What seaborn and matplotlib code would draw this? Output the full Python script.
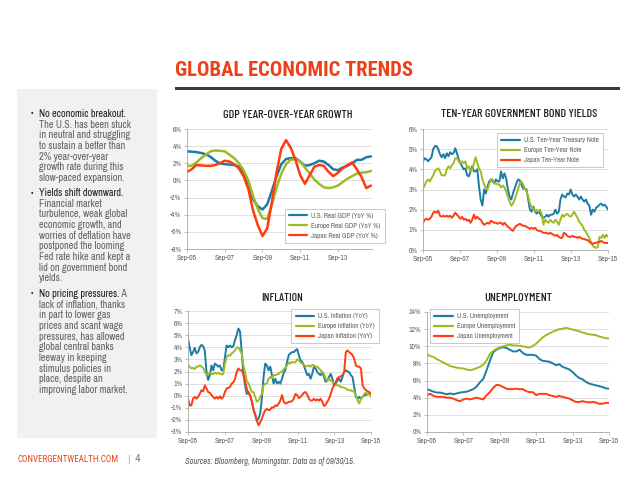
import numpy as np
import pandas as pd
import matplotlib
matplotlib.use('Agg')
import matplotlib.pyplot as plt
import seaborn as sns
from matplotlib import font_manager as fm
from matplotlib.patches import Rectangle

# ---------------- data ----------------
tick_labels = ['Sep-05', 'Sep-07', 'Sep-09', 'Sep-11', 'Sep-13', 'Sep-15']
tick_dates = ['2005-09-30', '2007-09-30', '2009-09-30', '2011-09-30', '2013-09-30', '2015-09-30']

gdp_us = [3.4, 3.35, 3.3, 3.2, 3.05, 2.75, 2.3, 2.0, 1.9, 1.85, 1.8, 1.6, 0.9, -0.6, -2.2, -3.0,
          -3.4, -2.8, -1.2, 0.5, 1.9, 2.5, 2.6, 2.6, 2.2, 1.7, 1.8, 2.0, 2.3, 2.2, 1.8, 1.3,
          1.2, 1.5, 1.7, 2.0, 2.4, 2.4, 2.7, 2.8]
gdp_eu = [1.7, 1.7, 2.1, 2.6, 3.0, 3.4, 3.5, 3.45, 3.4, 3.0, 2.6, 2.0, 1.2, 0.0, -1.8, -3.3,
          -4.4, -4.5, -2.8, -0.8, 0.8, 1.9, 2.4, 2.5, 2.2, 1.5, 0.8, 0.1, -0.4, -0.8, -0.9, -0.8,
          -0.6, -0.2, 0.2, 0.5, 0.8, 0.9, 0.95, 1.1]
gdp_jp = [1.0, 1.3, 1.8, 1.75, 1.7, 1.7, 1.8, 2.0, 2.3, 2.2, 1.9, 1.4, 0.5, -1.0, -3.5, -5.2,
          -6.5, -5.6, -2.5, 1.0, 3.7, 4.7, 3.8, 2.4, 0.6, -0.4, 0.6, 1.6, 1.8, 1.7, 1.0, 0.5,
          0.9, 1.4, 1.8, 2.1, 1.3, 0.4, -0.9, -0.6]

bond_us = [4.4, 4.55, 4.5, 4.4, 4.5, 4.6, 5.0, 5.15, 5.15, 5.0,
           4.75, 4.6, 4.75, 4.55, 4.8, 4.65, 4.85, 4.75, 4.8, 5.05,
           4.8, 4.5, 4.3, 4.15, 4.0, 4.05, 3.7, 3.65, 3.9, 4.15,
           3.9, 3.9, 4.0, 3.15, 2.5, 2.2, 3.0, 2.8, 3.15, 3.4,
           3.5, 3.4, 3.3, 3.5, 3.4, 3.4, 3.9, 3.55, 3.8, 3.55,
           3.0, 2.65, 2.5, 2.8, 3.05, 3.3, 3.5, 3.45, 3.25, 3.05,
           3.05, 3.0, 2.5, 2.0, 1.9, 2.15, 1.9, 1.8, 1.9, 1.8,
           1.65, 1.6, 1.65, 1.75, 1.65, 1.75, 1.75, 1.8, 2.0, 1.8,
           1.9, 2.5, 2.75, 2.65, 2.6, 2.8, 2.75, 3.0, 2.75, 2.65,
           2.75, 2.65, 2.5, 2.65, 2.5, 2.4, 2.5, 2.3, 2.2, 1.75,
           2.0, 1.9, 2.1, 2.15, 2.25, 2.3, 2.2, 2.25, 2.15, 2.0]
bond_eu = [3.05, 3.2, 3.4, 3.5, 3.4, 3.55, 3.7, 3.9, 4.0, 4.05,
           3.9, 3.7, 3.7, 3.7, 4.0, 4.15, 4.05, 4.2, 4.3, 4.55,
           4.55, 4.4, 4.3, 4.4, 4.3, 4.4, 4.05, 4.15, 3.9, 4.0,
           4.3, 4.6, 4.3, 4.05, 3.9, 3.5, 3.25, 3.05, 3.0, 3.25,
           3.5, 3.5, 3.3, 3.3, 3.25, 3.25, 3.1, 3.2, 3.1, 2.9,
           2.65, 2.4, 2.2, 2.3, 2.5, 2.75, 3.0, 3.3, 3.4, 3.25,
           3.05, 2.9, 2.65, 2.3, 2.15, 2.05, 1.9, 2.0, 1.9, 2.0,
           1.75, 1.25, 1.5, 1.4, 1.35, 1.5, 1.4, 1.35, 1.5, 1.4,
           1.25, 1.5, 1.75, 1.65, 1.75, 1.8, 1.7, 1.65, 1.75, 1.9,
           1.75, 1.6, 1.4, 1.3, 1.2, 1.0, 0.9, 0.75, 0.6, 0.4,
           0.2, 0.15, 0.1, 0.15, 0.65, 0.6, 0.75, 0.6, 0.75, 0.65]
bond_jp = [1.35, 1.5, 1.55, 1.5, 1.55, 1.65, 1.85, 1.9, 1.85, 1.95,
           1.7, 1.65, 1.7, 1.65, 1.7, 1.65, 1.7, 1.6, 1.7, 1.85,
           1.75, 1.65, 1.55, 1.65, 1.5, 1.55, 1.45, 1.5, 1.35, 1.5,
           1.75, 1.55, 1.65, 1.55, 1.5, 1.35, 1.25, 1.3, 1.35, 1.3,
           1.45, 1.4, 1.35, 1.35, 1.3, 1.35, 1.35, 1.25, 1.35, 1.25,
           1.15, 1.1, 1.0, 0.95, 1.1, 1.2, 1.25, 1.3, 1.25, 1.2,
           1.2, 1.15, 1.1, 1.05, 1.1, 1.05, 1.1, 1.0, 0.95, 0.95,
           0.9, 0.85, 0.85, 0.85, 0.8, 0.85, 0.8, 0.75, 0.7, 0.75,
           0.65, 0.6, 0.6, 0.85, 0.8, 0.7, 0.65, 0.65, 0.7, 0.65,
           0.65, 0.6, 0.65, 0.6, 0.55, 0.55, 0.5, 0.5, 0.4, 0.35,
           0.3, 0.35, 0.35, 0.4, 0.4, 0.45, 0.4, 0.35, 0.35, 0.35]

infl_us = [4.7, 4.0, 3.35, 3.6, 3.95, 3.5, 3.6, 4.0, 4.2, 4.1,
           3.75, 2.0, 1.3, 1.7, 2.5, 2.1, 2.65, 2.55, 2.4, 2.5,
           2.1, 2.1, 3.2, 4.15, 4.0, 4.15, 4.0, 4.1, 4.6, 5.0,
           5.55, 5.3, 3.6, 1.8, 0.85, 0.15, 0.3, 0.0, -0.5, -1.1,
           -1.6, -2.05, -1.9, -1.5, -0.25, 1.55, 2.65, 2.5, 2.1, 2.4,
           1.7, 1.0, 1.4, 1.0, 1.15, 1.0, 1.4, 1.9, 2.1, 2.8,
           3.35, 3.5, 3.6, 3.6, 3.75, 3.85, 3.35, 2.95, 2.8, 2.5,
           2.1, 1.7, 1.8, 1.4, 1.8, 2.4, 2.25, 1.95, 1.8, 1.7,
           1.95, 1.55, 1.15, 1.25, 1.55, 1.8, 1.4, 0.85, 1.0, 1.25,
           1.4, 1.15, 1.55, 1.95, 2.1, 2.0, 1.95, 1.7, 1.55, 0.7,
           -0.1, -0.25, -0.1, -0.25, -0.1, 0.05, 0.05, 0.15, 0.15, 0.15]
infl_eu = [2.5, 2.4, 2.25, 2.3, 2.2, 2.4, 2.4, 2.5, 2.4, 2.3,
           2.0, 1.7, 1.8, 1.9, 1.8, 1.8, 1.9, 1.8, 1.9, 1.8,
           1.75, 1.8, 2.65, 3.2, 3.35, 3.3, 3.5, 3.6, 3.75, 3.95,
           4.0, 3.75, 3.5, 2.5, 1.95, 1.25, 1.0, 0.7, 0.3, 0.3,
           -0.1, -0.5, -0.4, -0.1, 0.15, 0.85, 1.0, 1.0, 1.4, 1.55,
           1.45, 1.7, 1.7, 1.75, 1.8, 1.95, 2.0, 2.2, 2.3, 2.5,
           2.75, 2.65, 2.8, 2.75, 2.75, 3.0, 2.95, 2.75, 2.65, 2.55,
           2.45, 2.45, 2.5, 2.4, 2.55, 2.5, 2.4, 2.4, 2.25, 2.1,
           1.95, 1.8, 1.4, 1.25, 1.4, 1.25, 1.15, 1.0, 0.9, 0.85,
           0.85, 0.7, 0.7, 0.65, 0.6, 0.5, 0.45, 0.45, 0.35, 0.35,
           0.05, -0.4, -0.65, -0.25, -0.1, 0.15, 0.25, 0.1, 0.15, -0.1]
infl_jp = [-0.25, -0.8, -0.8, -0.25, -0.1, -0.25, -0.1, 0.15, 0.45, 0.35,
           0.85, 0.6, 0.3, 0.25, 0.05, -0.1, -0.25, -0.1, -0.25, -0.05,
           -0.25, -0.1, 0.3, 0.6, 0.65, 0.7, 1.0, 1.1, 1.4, 1.95,
           2.25, 2.1, 2.1, 1.8, 1.15, 0.6, 0.15, 0.05, -0.4, -1.2,
           -1.5, -2.05, -2.45, -2.2, -1.9, -1.5, -1.2, -1.1, -1.2, -1.15,
           -0.95, -1.0, -0.8, -0.85, -0.65, -0.4, 0.05, -0.5, -0.65, -0.6,
           -0.5, -0.5, -0.45, -0.25, 0.15, 0.05, -0.2, -0.1, 0.05, 0.25,
           0.3, 0.1, -0.25, -0.4, -0.4, -0.25, -0.4, -0.3, -0.4, -0.25,
           -0.5, -0.85, -0.75, -0.5, -0.25, 0.15, 0.6, 0.85, 1.15, 1.45,
           1.55, 1.6, 1.7, 1.95, 3.6, 3.75, 3.6, 3.5, 3.35, 3.05,
           2.5, 2.4, 2.4, 2.25, 0.85, 0.6, 0.45, 0.35, 0.3, 0.15]

unemp_us = [5.0, 4.85, 4.7, 4.6, 4.6, 4.5, 4.4, 4.5, 4.4, 4.5,
            4.6, 4.65, 4.7, 4.85, 5.0, 5.3, 5.8, 6.2, 7.2, 8.3,
            9.3, 9.6, 9.8, 9.9, 9.8, 9.6, 9.4, 9.4, 9.6, 9.2,
            9.0, 9.0, 9.0, 8.9, 8.5, 8.3, 8.25, 8.2, 8.0, 7.8,
            7.9, 7.6, 7.45, 7.3, 7.0, 6.6, 6.3, 6.15, 5.85, 5.65,
            5.55, 5.45, 5.35, 5.25, 5.1, 5.05]
unemp_eu = [9.05, 8.85, 8.75, 8.5, 8.3, 8.1, 7.9, 7.7, 7.6, 7.5,
            7.45, 7.4, 7.3, 7.2, 7.3, 7.45, 7.6, 7.85, 8.35, 9.1,
            9.45, 9.7, 9.9, 10.0, 10.1, 10.2, 10.1, 10.1, 10.05, 10.0,
            9.9, 9.85, 10.05, 10.3, 10.7, 11.05, 11.3, 11.5, 11.7, 11.85,
            12.0, 12.05, 12.15, 12.05, 11.95, 11.85, 11.75, 11.6, 11.5, 11.4,
            11.35, 11.3, 11.15, 11.05, 10.95, 10.9]
unemp_jp = [4.3, 4.45, 4.2, 4.1, 4.1, 4.1, 4.0, 4.0, 3.9, 3.7,
            3.6, 3.8, 3.9, 3.8, 3.9, 4.0, 3.9, 3.8, 4.3, 4.65,
            5.15, 5.5, 5.45, 5.25, 5.05, 5.0, 5.0, 5.05, 5.0, 5.0,
            4.75, 4.65, 4.65, 4.3, 4.45, 4.45, 4.45, 4.3, 4.2, 4.1,
            4.2, 4.1, 4.0, 3.9, 3.7, 3.5, 3.5, 3.6, 3.5, 3.45,
            3.5, 3.45, 3.3, 3.3, 3.4, 3.4]

gdp_labels = ['U.S. Real GDP (YoY %)', 'Europe Real GDP (YoY %)', 'Japan Real GDP (YoY %)']
bond_labels = ['U.S. Ten-Year Treasury Note', 'Europe Ten-Year Note', 'Japan Ten-Year Note']
infl_labels = ['U.S. Inflation (YoY)', 'Europe Inflation (YoY)', 'Japan Inflation (YoY)']
unemp_labels = ['U.S. Unemployment', 'Europe Unemployment', 'Japan Unemployment']

bullets = [
    ("No economic breakout.", "", ["The U.S. has been stuck", "in neutral and struggling",
      "to sustain a better than", "2% year-over-year", "growth rate during this",
      "slow-paced expansion."]),
    ("Yields shift downward.", "", ["Financial market", "turbulence, weak global",
      "economic growth, and", "worries of deflation have", "postponed the looming",
      "Fed rate hike and kept a", "lid on government bond", "yields."]),
    ("No pricing pressures.", " A", ["lack of inflation, thanks", "in part to lower gas",
      "prices and scant wage", "pressures, has allowed", "global central banks",
      "leeway in keeping", "stimulus policies in", "place, despite an",
      "improving labor market."]),
]

# ---------------- style ----------------
US_C, EU_C, JP_C = '#1C7CA6', '#9DBB22', '#FF3B10'
RED = '#EE4018'
GREY_TXT = '#606060'


def has_font(name):
    try:
        fm.findfont(fm.FontProperties(family=name), fallback_to_default=False)
        return True
    except Exception:
        return False


def first_font(cands, default='Liberation Sans'):
    for c in cands:
        if has_font(c):
            return c
    return default


NARROW = first_font(['Archivo Narrow', 'Roboto Condensed', 'Liberation Sans Narrow'])
TITLEF = first_font(['Roboto Condensed', 'Archivo Narrow', 'Liberation Sans Narrow'])
CONDF = first_font(['Barlow Condensed', 'Roboto Condensed', 'Archivo Narrow', 'Liberation Sans Narrow'])

sns.set_style('white')
plt.rcParams['font.family'] = [NARROW, 'DejaVu Sans']

fig = plt.figure(figsize=(6.4, 4.8), dpi=100)
W, H = 640.0, 480.0
renderer = fig.canvas.get_renderer()


def T(x, y, s, **kw):
    return fig.text(x / W, 1 - y / H, s, **kw)


def fit(t, target):
    bb = t.get_window_extent(renderer=renderer)
    if bb.width > 0:
        t.set_fontsize(t.get_fontsize() * target / bb.width)
    return t.get_fontsize()


def px_axes(l, t, r, b):
    return fig.add_axes([l / W, 1 - b / H, (r - l) / W, (b - t) / H])


# left grey panel and title bar
fig.add_artist(Rectangle((17 / W, 1 - 438 / H), 140 / W, 349 / H, transform=fig.transFigure,
                         facecolor='#F1F1F1', edgecolor='none', zorder=0))
fig.add_artist(Rectangle((175 / W, 1 - 89.5 / H), 445 / W, 3 / H, transform=fig.transFigure,
                         facecolor='#3A3A3A', edgecolor='none', zorder=1))

tt = T(175, 70, 'GLOBAL ECONOMIC TRENDS', color=RED, fontsize=15, fontweight='bold',
       family=[TITLEF, 'DejaVu Sans'], ha='left', va='center')
fit(tt, 240)

# bullet text: size calibrated on one line of known width
probe = T(39, -50, 'in neutral and struggling', fontsize=7)
BODY = fit(probe, 91)
probe.remove()
starts = [114, 193, 294]
for (head, tail, lines), y0 in zip(bullets, starts):
    T(31, y0, '\u2022', color='#262626', fontsize=BODY * 0.9, ha='left', va='center')
    ht = T(39, y0, head, color='#1A1A1A', fontsize=BODY, fontweight='bold', ha='left', va='center')
    if tail:
        bb = ht.get_window_extent(renderer=renderer)
        fig.text(bb.x1 / W, 1 - y0 / H, tail, color=GREY_TXT, fontsize=BODY,
                 ha='left', va='center')
    for i, ln in enumerate(lines):
        T(39, y0 + 10.65 * (i + 1), ln, color=GREY_TXT, fontsize=BODY, ha='left', va='center')

# footer
fw = T(18, 459, 'CONVERGENTWEALTH.COM', color=RED, fontsize=7, family=[TITLEF, 'DejaVu Sans'],
       ha='left', va='center')
fit(fw, 101)
T(127, 459, '|', color='#A6A6A6', fontsize=7.5, family=[TITLEF, 'DejaVu Sans'], ha='left', va='center')
T(135, 459, '4', color='#808080', fontsize=8, family=[TITLEF, 'DejaVu Sans'], ha='left', va='center')
src = T(185, 462, 'Sources: Bloomberg, Morningstar. Data as of 09/30/15.', color='#595959',
        fontsize=6.3, style='italic', ha='left', va='center')
fit(src, 171)

# chart titles
for x, y, s, w in [(288, 115, 'GDP YEAR-OVER-YEAR GROWTH', 130),
                   (519, 114, 'TEN-YEAR GOVERNMENT BOND YIELDS', 158),
                   (282, 298, 'INFLATION', 42), (518, 298, 'UNEMPLOYMENT', 68)]:
    ct = T(x, y, s, color='#1F1F1F', fontsize=8, family=[CONDF, 'DejaVu Sans'], fontweight='medium',
           ha='center', va='center')
    fit(ct, w)

xt = [pd.Timestamp(d) for d in tick_dates]


def style(ax, yt, xlim, ylim, nx):
    ax.set_xlim(xlim)
    ax.set_ylim(ylim)
    ax.set_yticks(yt)
    ax.set_yticklabels([f'{v}%' for v in yt])
    ax.set_xticks(xt[:nx])
    ax.set_xticklabels(tick_labels[:nx])
    ax.set_xlabel('')
    ax.set_ylabel('')
    ax.grid(axis='y', color='#D9D9D9', lw=0.6)
    ax.grid(axis='x', visible=False)
    ax.set_axisbelow(True)
    for s in ['top', 'right']:
        ax.spines[s].set_visible(False)
    for s in ['left', 'bottom']:
        ax.spines[s].set_color('#A6A6A6')
        ax.spines[s].set_linewidth(0.6)
    ax.tick_params(axis='both', labelsize=5.5, colors='#A6A6A6', labelcolor=GREY_TXT,
                   length=2, width=0.5, pad=2, left=True, bottom=True)
    ax.set_facecolor('none')


def draw(ax, dates, series, labels, lw):
    for vals, lab, col in zip(series, labels, [US_C, EU_C, JP_C]):
        df = pd.DataFrame({'date': dates, 'v': vals})
        sns.lineplot(data=df, x='date', y='v', color=col, lw=lw, label=lab, ax=ax)


def legend(ax, loc, anchor):
    leg = ax.legend(loc=loc, bbox_to_anchor=anchor, borderaxespad=0, fontsize=5.1, frameon=True,
                    fancybox=False, edgecolor='#BFBFBF', framealpha=1, handlelength=2.6,
                    handletextpad=0.6, labelspacing=0.55, borderpad=0.6)
    leg.get_frame().set_linewidth(0.6)
    for t in leg.get_texts():
        t.set_color(GREY_TXT)
    for l in leg.get_lines():
        l.set_linewidth(1.6)


# GDP
ax1 = px_axes(187, 129, 372, 249)
d_gdp = pd.date_range('2005-09-30', '2015-06-30', periods=len(gdp_us))
draw(ax1, d_gdp, [gdp_us, gdp_eu, gdp_jp], gdp_labels, 1.8)
style(ax1, [-8, -6, -4, -2, 0, 2, 4, 6], (pd.Timestamp('2005-09-30'), pd.Timestamp('2015-07-20')), (-8, 6), 5)
legend(ax1, 'lower right', (1.07, 0.05))

# Bonds
ax2 = px_axes(423, 129, 608, 250)
d_b = pd.date_range('2005-09-30', '2015-09-30', periods=len(bond_us))
draw(ax2, d_b, [bond_us, bond_eu, bond_jp], bond_labels, 1.4)
style(ax2, [0, 1, 2, 3, 4, 5, 6], (pd.Timestamp('2005-09-30'), pd.Timestamp('2015-09-30')), (0, 6), 6)
legend(ax2, 'upper right', (0.973, 0.967))

# Inflation
ax3 = px_axes(188, 311, 371, 432)
d_i = pd.date_range('2005-09-30', '2015-09-30', periods=len(infl_us))
draw(ax3, d_i, [infl_us, infl_eu, infl_jp], infl_labels, 1.4)
style(ax3, list(range(-3, 8)), (pd.Timestamp('2005-09-30'), pd.Timestamp('2015-09-30')), (-3, 7), 6)
legend(ax3, 'upper right', (1.044, 1.017))

# Unemployment
ax4 = px_axes(427, 312, 609, 432)
d_u = pd.date_range('2005-09-30', '2015-09-30', periods=len(unemp_us))
draw(ax4, d_u, [unemp_us, unemp_eu, unemp_jp], unemp_labels, 1.4)
style(ax4, [0, 2, 4, 6, 8, 10, 12, 14], (pd.Timestamp('2005-09-30'), pd.Timestamp('2015-09-30')), (0, 14), 6)
legend(ax4, 'upper left', (0.016, 1.025))

fig.savefig('out.png', dpi=100)
